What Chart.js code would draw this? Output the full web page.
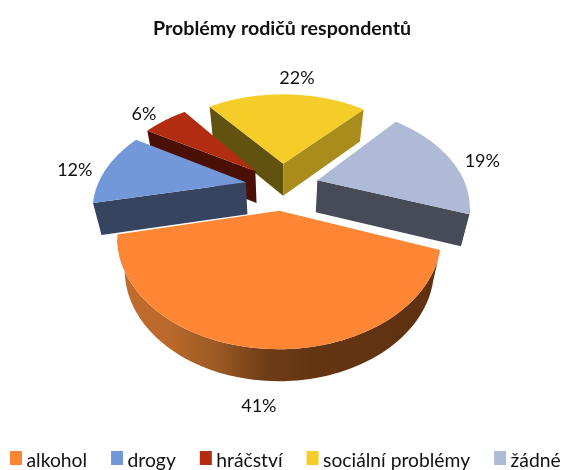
<!DOCTYPE html>
<html lang="cs"><head><meta charset="utf-8">
<style>html,body{margin:0;padding:0;background:#fff}canvas{display:block}</style>
<script src="https://cdn.jsdelivr.net/npm/chart.js@4/dist/chart.umd.min.js"></script>
</head><body><canvas id="c" width="564" height="470"></canvas>
<script>
const categories = ['alkohol','drogy','hráčství','sociální problémy','žádné'];
const percentValues = [41,12,6,22,19];
const topColors = ['#FF8635','#7298D9','#B22C12','#F5CD28','#AEBAD6'];
const sideColors = ['#5E3110','#36445F','#4A1006','#62520F','#464B57'];
const endFaceColors = ['#5E3110','#36445F','#4A1006','#A98C1C','#464B57'];
const outerWallStops = [[0,'#C26D2C'],[0.16,'#B9692B'],[0.31,'#9A5A24'],[0.46,'#6E3C17'],[0.6,'#653512'],[1,'#5E3110']];
const labelRadius = [1.29,1.21,1.205,1.305,1.21];
const labelShiftDeg = [0,-3,-2.6,3.6,4];
const perspective = 0.225, squash = 0.633, depth = 32, depthShrink = 0.955, centreY = 186;

const pie3d = {
  id:'pie3d',
  beforeDatasetDraw(chart){
    const ctx = chart.ctx, arcs = chart.getDatasetMeta(0).data;
    const A = arcs[0], R = A.outerRadius, cx = A.x;
    const proj = (u,v)=>{const w=1-perspective*v;return {x:cx+R*u/w,y:centreY+R*squash*v/w};};
    const low = p=>({x:cx+(p.x-cx)*depthShrink,y:p.y+depth});
    const items = arcs.map((a,i)=>{
      const mid=(a.startAngle+a.endAngle)/2, e=a.options.offset/R;
      return {a,i,mid,u0:e*Math.cos(mid),v0:e*Math.sin(mid)};
    }).sort((p,q)=>p.v0-q.v0);
    const band=(pts,fill)=>{
      ctx.beginPath();
      pts.forEach((p,k)=>k?ctx.lineTo(p.x,p.y):ctx.moveTo(p.x,p.y));
      pts.slice().reverse().forEach(p=>{const l=low(p);ctx.lineTo(l.x,l.y);});
      ctx.closePath();ctx.fillStyle=fill;ctx.fill();
    };
    items.forEach(it=>{
      const {a,i,u0,v0}=it, n=80, rim=[];
      for(let k=0;k<=n;k++){const t=a.startAngle+(a.endAngle-a.startAngle)*k/n;rim.push(proj(u0+Math.cos(t),v0+Math.sin(t)));}
      const apex=proj(u0,v0);
      let wallFill=sideColors[i];
      if(percentValues[i]===Math.max(...percentValues)){
        const xs=rim.map(p=>p.x), g=ctx.createLinearGradient(Math.min(...xs),0,Math.max(...xs),0);
        outerWallStops.forEach(s=>g.addColorStop(s[0],s[1]));wallFill=g;
      }
      if(rim[0].x<apex.x) band([apex,rim[0]],sideColors[i]);
      if(apex.x<rim[n].x) band([rim[n],apex],endFaceColors[i]);
      const front=[];
      for(let k=0;k<n;k++) if(rim[k+1].x<rim[k].x){ if(!front.length) front.push(rim[k]); front.push(rim[k+1]); }
      if(front.length) band(front,wallFill);
      ctx.beginPath();ctx.moveTo(apex.x,apex.y);rim.forEach(p=>ctx.lineTo(p.x,p.y));ctx.closePath();
      ctx.fillStyle=topColors[i];ctx.fill();
    });
    ctx.save();ctx.font='18px Lato';ctx.fillStyle='#111';ctx.textAlign='center';ctx.textBaseline='middle';
    items.forEach(it=>{
      const t=it.mid+labelShiftDeg[it.i]*Math.PI/180, r=labelRadius[it.i];
      const p=proj(it.u0+r*Math.cos(t),it.v0+r*Math.sin(t));
      ctx.fillText(percentValues[it.i]+'%',p.x,p.y);
    });
    ctx.restore();
    return false;
  },
  afterDraw(chart){
    const ctx=chart.ctx;
    ctx.save();ctx.font='19.3px Lato';ctx.fillStyle='#111';ctx.textAlign='left';ctx.textBaseline='alphabetic';
    let x=10;
    categories.forEach((name,i)=>{
      ctx.fillStyle=topColors[i];ctx.fillRect(x,451,12,14);
      ctx.fillStyle='#111';ctx.fillText(name,x+16.5,466.5);
      x+=16.5+ctx.measureText(name).width+24;
    });
    ctx.restore();
  }
};

new Chart(document.getElementById('c'),{
  type:'pie',
  data:{labels:categories,datasets:[{data:percentValues,backgroundColor:topColors,borderWidth:0,offset:37}]},
  options:{
    responsive:false,animation:false,devicePixelRatio:1,rotation:110,radius:148.5,
    plugins:{
      tooltip:{enabled:false},
      legend:{display:false},
      title:{display:true,text:'Problémy rodičů respondentů',color:'#111',font:{family:'Lato',size:19.6,weight:'bold'},padding:{top:17,bottom:10}}
    }
  },
  plugins:[pie3d]
});
</script></body></html>
